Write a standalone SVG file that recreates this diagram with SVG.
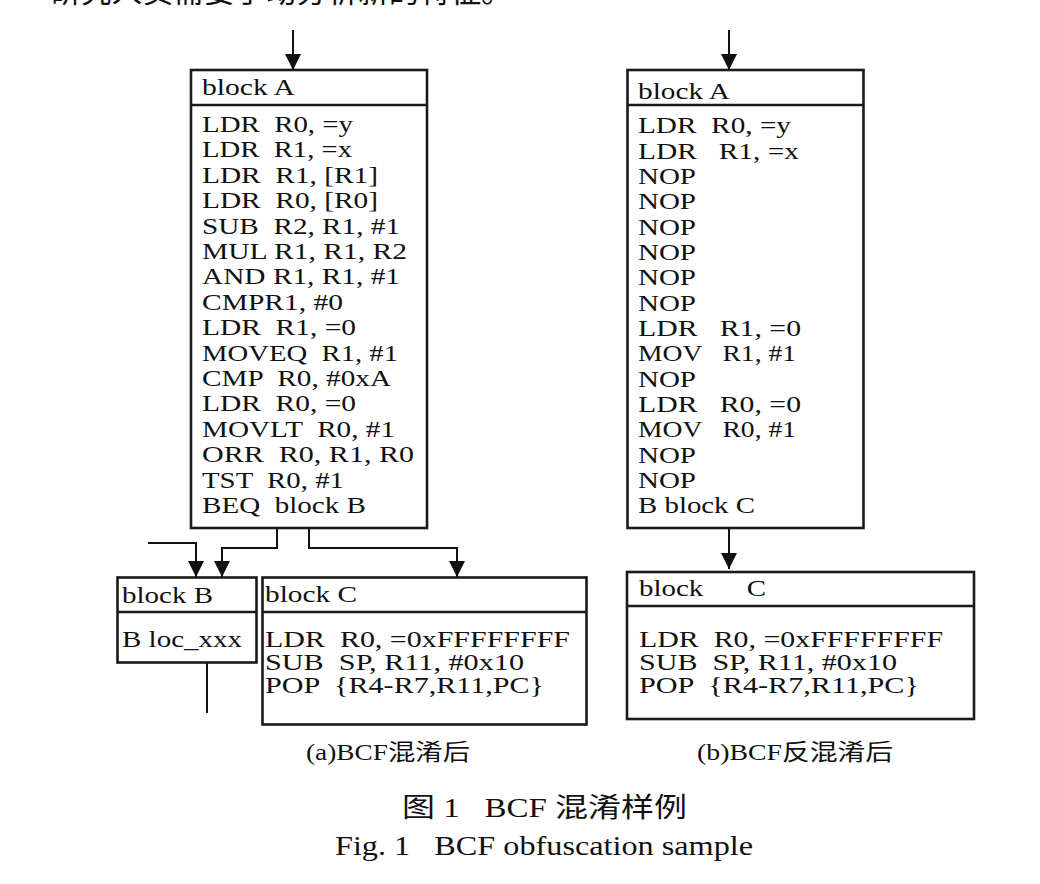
<svg xmlns="http://www.w3.org/2000/svg" width="1040" height="884" viewBox="0 0 1040 884" xml:space="preserve">
<style>
.box{fill:#fff;stroke:#1a1a1a;stroke-width:2.6}
.sep{stroke:#1a1a1a;stroke-width:2.6}
.code{font-family:"Liberation Serif","Times New Roman",serif;font-size:23px;fill:#111;white-space:pre}
.cap{font-family:"Liberation Serif","Noto Sans CJK SC",serif;fill:#111;white-space:pre}
.conn{fill:none;stroke:#111;stroke-width:2}
</style>
<defs>
<marker id="ah" markerUnits="userSpaceOnUse" markerWidth="16" markerHeight="16" refX="16" refY="8" orient="auto" viewBox="0 0 16 16">
<path d="M0,0 L16,8 L0,16 z" fill="#111"/>
</marker>
</defs>
<rect width="1040" height="884" fill="#fff"/>

<text x="50" y="2" font-family="'Noto Sans CJK SC',sans-serif" font-size="31" fill="#111" textLength="462" lengthAdjust="spacingAndGlyphs">研究人员需要手动分析新的特征。</text>

<g id="connectors">
<path class="conn" d="M293,30 V70" marker-end="url(#ah)"/>
<path class="conn" d="M148,543 H196 V577" marker-end="url(#ah)"/>
<path class="conn" d="M277,528 V548 H222 V577" marker-end="url(#ah)"/>
<path class="conn" d="M309,528 V548 H457 V577" marker-end="url(#ah)"/>
<path class="conn" d="M207,663 V713"/>
<path class="conn" d="M729,30 V70" marker-end="url(#ah)"/>
<path class="conn" d="M729,528 V569" marker-end="url(#ah)"/>
</g>

<g id="a-blockA">
<rect class="box" x="191" y="70" width="236" height="458"/>
<line class="sep" x1="191" y1="105" x2="427" y2="105"/>
<text class="code" x="202" y="95" textLength="93" lengthAdjust="spacingAndGlyphs">block A</text>
<text class="code" x="202" y="132" textLength="151" lengthAdjust="spacingAndGlyphs">LDR  R0, =y</text>
<text class="code" x="202" y="157.4" textLength="150" lengthAdjust="spacingAndGlyphs">LDR  R1, =x</text>
<text class="code" x="202" y="182.8" textLength="176" lengthAdjust="spacingAndGlyphs">LDR  R1, [R1]</text>
<text class="code" x="202" y="208.2" textLength="176" lengthAdjust="spacingAndGlyphs">LDR  R0, [R0]</text>
<text class="code" x="202" y="233.6" textLength="198" lengthAdjust="spacingAndGlyphs">SUB  R2, R1, #1</text>
<text class="code" x="202" y="259" textLength="205" lengthAdjust="spacingAndGlyphs">MUL R1, R1, R2</text>
<text class="code" x="202" y="284.4" textLength="198" lengthAdjust="spacingAndGlyphs">AND R1, R1, #1</text>
<text class="code" x="202" y="309.8" textLength="141" lengthAdjust="spacingAndGlyphs">CMPR1, #0</text>
<text class="code" x="202" y="335.2" textLength="154" lengthAdjust="spacingAndGlyphs">LDR  R1, =0</text>
<text class="code" x="202" y="360.6" textLength="196" lengthAdjust="spacingAndGlyphs">MOVEQ  R1, #1</text>
<text class="code" x="202" y="386" textLength="189" lengthAdjust="spacingAndGlyphs">CMP  R0, #0xA</text>
<text class="code" x="202" y="411.4" textLength="154" lengthAdjust="spacingAndGlyphs">LDR  R0, =0</text>
<text class="code" x="202" y="436.8" textLength="193" lengthAdjust="spacingAndGlyphs">MOVLT  R0, #1</text>
<text class="code" x="202" y="462.2" textLength="212" lengthAdjust="spacingAndGlyphs">ORR  R0, R1, R0</text>
<text class="code" x="202" y="487.6" textLength="142" lengthAdjust="spacingAndGlyphs">TST  R0, #1</text>
<text class="code" x="202" y="513" textLength="164" lengthAdjust="spacingAndGlyphs">BEQ  block B</text>
</g>

<g id="a-blockB">
<rect class="box" x="117.5" y="577.5" width="139" height="85"/>
<line class="sep" x1="117.5" y1="612" x2="256.5" y2="612"/>
<text class="code" x="122" y="603.3" textLength="91" lengthAdjust="spacingAndGlyphs">block B</text>
<text class="code" x="122" y="647.3" textLength="120" lengthAdjust="spacingAndGlyphs">B loc_xxx</text>
</g>

<g id="a-blockC">
<rect class="box" x="262.5" y="577.5" width="324" height="147"/>
<line class="sep" x1="262.5" y1="612" x2="586.5" y2="612"/>
<text class="code" x="265" y="601.7" textLength="92" lengthAdjust="spacingAndGlyphs">block C</text>
<text class="code" x="265" y="646.7" textLength="305" lengthAdjust="spacingAndGlyphs">LDR  R0, =0xFFFFFFFF</text>
<text class="code" x="265" y="670" textLength="259" lengthAdjust="spacingAndGlyphs">SUB  SP, R11, #0x10</text>
<text class="code" x="265" y="693.3" textLength="279" lengthAdjust="spacingAndGlyphs">POP  {R4-R7,R11,PC}</text>
</g>

<g id="b-blockA">
<rect class="box" x="627.5" y="70" width="236" height="458"/>
<line class="sep" x1="627.5" y1="105" x2="863.5" y2="105"/>
<text class="code" x="638" y="99" textLength="92" lengthAdjust="spacingAndGlyphs">block A</text>
<text class="code" x="638" y="133.3" textLength="153" lengthAdjust="spacingAndGlyphs">LDR  R0, =y</text>
<text class="code" x="638" y="158.7" textLength="161" lengthAdjust="spacingAndGlyphs">LDR   R1, =x</text>
<text class="code" x="638" y="184" textLength="58" lengthAdjust="spacingAndGlyphs">NOP</text>
<text class="code" x="638" y="209.3" textLength="58" lengthAdjust="spacingAndGlyphs">NOP</text>
<text class="code" x="638" y="234.7" textLength="58" lengthAdjust="spacingAndGlyphs">NOP</text>
<text class="code" x="638" y="260" textLength="58" lengthAdjust="spacingAndGlyphs">NOP</text>
<text class="code" x="638" y="285.3" textLength="58" lengthAdjust="spacingAndGlyphs">NOP</text>
<text class="code" x="638" y="310.7" textLength="58" lengthAdjust="spacingAndGlyphs">NOP</text>
<text class="code" x="638" y="336" textLength="163" lengthAdjust="spacingAndGlyphs">LDR   R1, =0</text>
<text class="code" x="638" y="361.3" textLength="158" lengthAdjust="spacingAndGlyphs">MOV   R1, #1</text>
<text class="code" x="638" y="386.7" textLength="58" lengthAdjust="spacingAndGlyphs">NOP</text>
<text class="code" x="638" y="412" textLength="163" lengthAdjust="spacingAndGlyphs">LDR   R0, =0</text>
<text class="code" x="638" y="437.3" textLength="158" lengthAdjust="spacingAndGlyphs">MOV   R0, #1</text>
<text class="code" x="638" y="462.7" textLength="58" lengthAdjust="spacingAndGlyphs">NOP</text>
<text class="code" x="638" y="488" textLength="58" lengthAdjust="spacingAndGlyphs">NOP</text>
<text class="code" x="638" y="513.3" textLength="117" lengthAdjust="spacingAndGlyphs">B block C</text>
</g>

<g id="b-blockC">
<rect class="box" x="627" y="572" width="347" height="147"/>
<line class="sep" x1="627" y1="606" x2="974" y2="606"/>
<text class="code" x="639" y="596" textLength="127" lengthAdjust="spacingAndGlyphs">block      C</text>
<text class="code" x="639" y="646.7" textLength="304" lengthAdjust="spacingAndGlyphs">LDR  R0, =0xFFFFFFFF</text>
<text class="code" x="639" y="669.5" textLength="258" lengthAdjust="spacingAndGlyphs">SUB  SP, R11, #0x10</text>
<text class="code" x="639" y="693.3" textLength="280" lengthAdjust="spacingAndGlyphs">POP  {R4-R7,R11,PC}</text>
</g>

<g id="captions">
<text class="cap" x="306" y="760" font-size="23" textLength="164" lengthAdjust="spacingAndGlyphs">(a)BCF混淆后</text>
<text class="cap" x="697" y="760" font-size="23" textLength="196" lengthAdjust="spacingAndGlyphs">(b)BCF反混淆后</text>
<text class="cap" x="402" y="817" font-size="27" textLength="285" lengthAdjust="spacingAndGlyphs">图 1   BCF 混淆样例</text>
<text class="cap" x="335" y="855" font-size="27" textLength="418" lengthAdjust="spacingAndGlyphs">Fig. 1   BCF obfuscation sample</text>
</g>
</svg>
